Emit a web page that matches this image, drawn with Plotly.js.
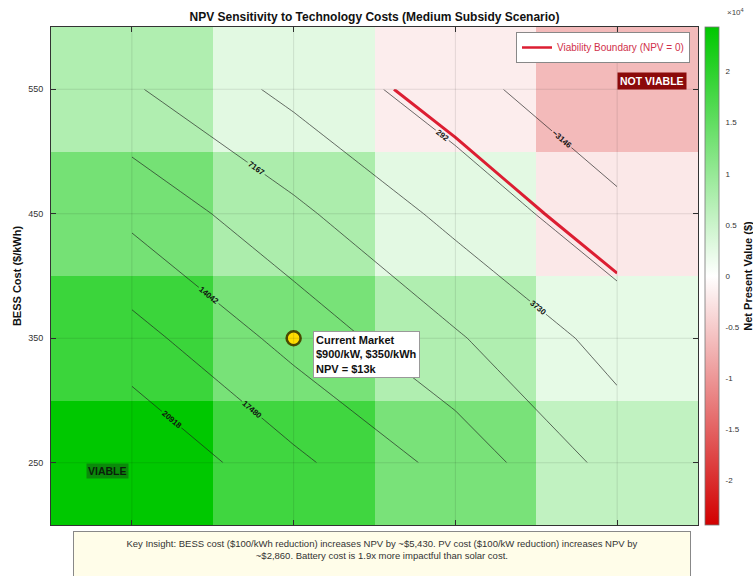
<!DOCTYPE html>
<html>
<head>
<meta charset="utf-8">
<script src="https://cdn.plot.ly/plotly-3.0.1.min.js"></script>
<style>html,body{margin:0;padding:0;background:#fff}#chart{width:753px;height:576px}</style>
</head>
<body>
<div id="chart"></div>
<script>
// PV cost ($/kW) categories (x) and BESS cost ($/kWh) categories (y)
const pvCost = [700, 900, 1100, 1300];
const bessCost = [250, 350, 450, 550];
const bessTickLabels = ['250', '350', '450', '550'];
// NPV ($) grid, one row per BESS cost (250 -> 550), one column per PV cost
const npvRow250 = [24357, 18261, 12800, 5900];
const npvRow350 = [18759, 12864, 7550, 2400];
const npvRow450 = [13184, 7950, 2700, -2193];
const npvRow550 = [7528, 2780, -1700, -6581];
// contour levels
const levelStart = -3145.6, levelStep = 3437.6, levelEnd = 20918;
// current market point
const currentPV = [900];
const currentBESS = [350];
// colorbar ticks
const cbTickVals = [-20000, -15000, -10000, -5000, 0, 5000, 10000, 15000, 20000];
const cbTickText = ['-2', '-1.5', '-1', '-0.5', '0', '0.5', '1', '1.5', '2'];

const npv = [npvRow250, npvRow350, npvRow450, npvRow550];
const zAbsMax = Math.max(...npv.flat().map(Math.abs));

const FONT = 'Liberation Sans, Arial, sans-serif';
const L = 51, T = 27, W = 647, H = 498;
const px2paperX = p => (p - L) / W;
const px2paperY = p => (T + H - p) / H;

const traces = [
  {
    type: 'heatmap', x: pvCost, y: bessCost, z: npv,
    zmin: -zAbsMax, zmax: zAbsMax,
    colorscale: [[0, 'rgb(210,0,0)'], [0.5, 'rgb(255,255,255)'], [1, 'rgb(0,200,0)']],
    showlegend: false, hoverinfo: 'skip',
    colorbar: {
      x: px2paperX(705), xanchor: 'left', xpad: 0, y: 0.5, yanchor: 'middle', len: 1, lenmode: 'fraction',
      ypad: 0, thickness: 14, outlinecolor: '#777', outlinewidth: 0.8,
      tickvals: cbTickVals, ticktext: cbTickText, ticks: 'outside', ticklen: 5, tickcolor: 'rgba(0,0,0,0)',
      tickfont: {size: 8, color: '#333', family: FONT},
      title: {text: 'Net Present Value ($)', side: 'right', font: {size: 11, color: '#111', family: FONT, weight: 'bold'}}
    }
  },
  {
    type: 'contour', x: pvCost, y: bessCost, z: npv, showscale: false, showlegend: false,
    hoverinfo: 'skip',
    contours: {coloring: 'none', start: levelStart, end: levelEnd, size: levelStep,
      showlabels: true, labelformat: '.0f',
      labelfont: {size: 8, color: '#111', family: FONT, weight: 'bold'}},
    line: {color: 'rgba(30,30,30,0.65)', width: 1, smoothing: 0}
  },
  {
    type: 'contour', x: pvCost, y: bessCost, z: npv, showscale: false, showlegend: false,
    hoverinfo: 'skip',
    contours: {coloring: 'none', start: 0, end: 0, size: 1, showlabels: false},
    line: {color: 'rgb(220,30,50)', width: 3, smoothing: 0}
  },
  {
    type: 'scatter', mode: 'lines', x: [null], y: [null], name: 'Viability Boundary (NPV = 0)',
    line: {color: 'rgb(220,30,50)', width: 2.5}, showlegend: true
  },
  {
    type: 'scatter', mode: 'markers', x: currentPV, y: currentBESS, showlegend: false,
    marker: {size: 14, color: '#ffdd00', line: {color: '#4a4a00', width: 2.5}}
  }
];

// faint grid lines drawn above the heatmap at the tick positions
const gridShapes = [];
pvCost.forEach(v => gridShapes.push({type: 'line', xref: 'x', yref: 'paper', x0: v, x1: v, y0: 0, y1: 1,
  line: {color: 'rgba(0,0,0,0.10)', width: 1}, layer: 'above'}));
bessCost.forEach(v => gridShapes.push({type: 'line', xref: 'paper', yref: 'y', x0: 0, x1: 1, y0: v, y1: v,
  line: {color: 'rgba(0,0,0,0.10)', width: 1}, layer: 'above'}));

const layout = {
  width: 753, height: 576,
  margin: {l: L, r: 753 - L - W, t: T, b: 576 - T - H, autoexpand: false},
  paper_bgcolor: '#ffffff', plot_bgcolor: '#ffffff',
  font: {family: FONT, color: '#222'},
  title: {text: '<b>NPV Sensitivity to Technology Costs (Medium Subsidy Scenario)</b>',
    font: {size: 12, color: '#111', family: FONT}, x: 0.5, xref: 'paper', y: 1 - 17 / 576, yanchor: 'middle'},
  xaxis: {range: [600, 1400], tickvals: pvCost, showticklabels: false, ticks: 'inside', ticklen: 5,
    tickcolor: '#333', showline: true, linecolor: '#333', linewidth: 1, mirror: 'ticks',
    showgrid: false, zeroline: false, layer: 'above traces', fixedrange: true, automargin: false},
  yaxis: {range: [200, 600], tickvals: bessCost, ticktext: bessTickLabels, ticks: 'inside', ticklen: 5,
    tickcolor: '#333', showline: true, linecolor: '#333', linewidth: 1, mirror: 'ticks',
    tickfont: {size: 9, color: '#333', family: FONT}, ticklabelstandoff: 5, automargin: false,
    showgrid: false, zeroline: false, layer: 'above traces',
    title: {text: '<b>BESS Cost ($/kWh)</b>', font: {size: 11, color: '#111', family: FONT}, standoff: 4}},
  showlegend: true,
  legend: {x: px2paperX(690), xanchor: 'right', y: px2paperY(32), yanchor: 'top', bgcolor: '#ffffff',
    bordercolor: '#888', borderwidth: 1, font: {size: 10, color: '#d0304a', family: FONT},
    itemwidth: 30, tracegroupgap: 0},
  shapes: gridShapes,
  annotations: [
    {x: 924, y: 356, xref: 'x', yref: 'y', xanchor: 'left', yanchor: 'top', align: 'left', showarrow: false,
      text: '<b>Current Market<br>$900/kW, $350/kWh<br>NPV = $13k</b>',
      font: {size: 11, color: '#111', family: FONT}, bgcolor: '#ffffff', bordercolor: '#999', borderwidth: 1, borderpad: 2},
    {x: 1343, y: 557, xref: 'x', yref: 'y', showarrow: false, text: '<b>NOT VIABLE</b>',
      font: {size: 10.5, color: '#ffffff', family: FONT}, bgcolor: '#8b0a0a', borderpad: 2},
    {x: 670, y: 243, xref: 'x', yref: 'y', showarrow: false, text: '<b>VIABLE</b>',
      font: {size: 10.5, color: '#0b1f0b', family: FONT}, bgcolor: '#0a8a0a', borderpad: 1},
    {x: px2paperX(735), y: px2paperY(12), xref: 'paper', yref: 'paper', xanchor: 'center', yanchor: 'middle', showarrow: false,
      text: '\u00d710<sup>4</sup>', font: {size: 8, color: '#444', family: FONT}},
    {x: px2paperX(382), y: px2paperY(531), xref: 'paper', yref: 'paper', xanchor: 'center', yanchor: 'top', showarrow: false,
      align: 'center', width: 604, height: 48, valign: 'top',
      text: 'Key Insight: BESS cost ($100/kWh reduction) increases NPV by ~$5,430. PV cost ($100/kW reduction) increases NPV by<br>~$2,860. Battery cost is 1.9x more impactful than solar cost.',
      font: {size: 9.5, color: '#333', family: FONT}, bgcolor: '#fffde9', bordercolor: '#888', borderwidth: 1, borderpad: 6}
  ]
};

Plotly.newPlot('chart', traces, layout, {displayModeBar: false, staticPlot: true});
</script>
</body>
</html>
